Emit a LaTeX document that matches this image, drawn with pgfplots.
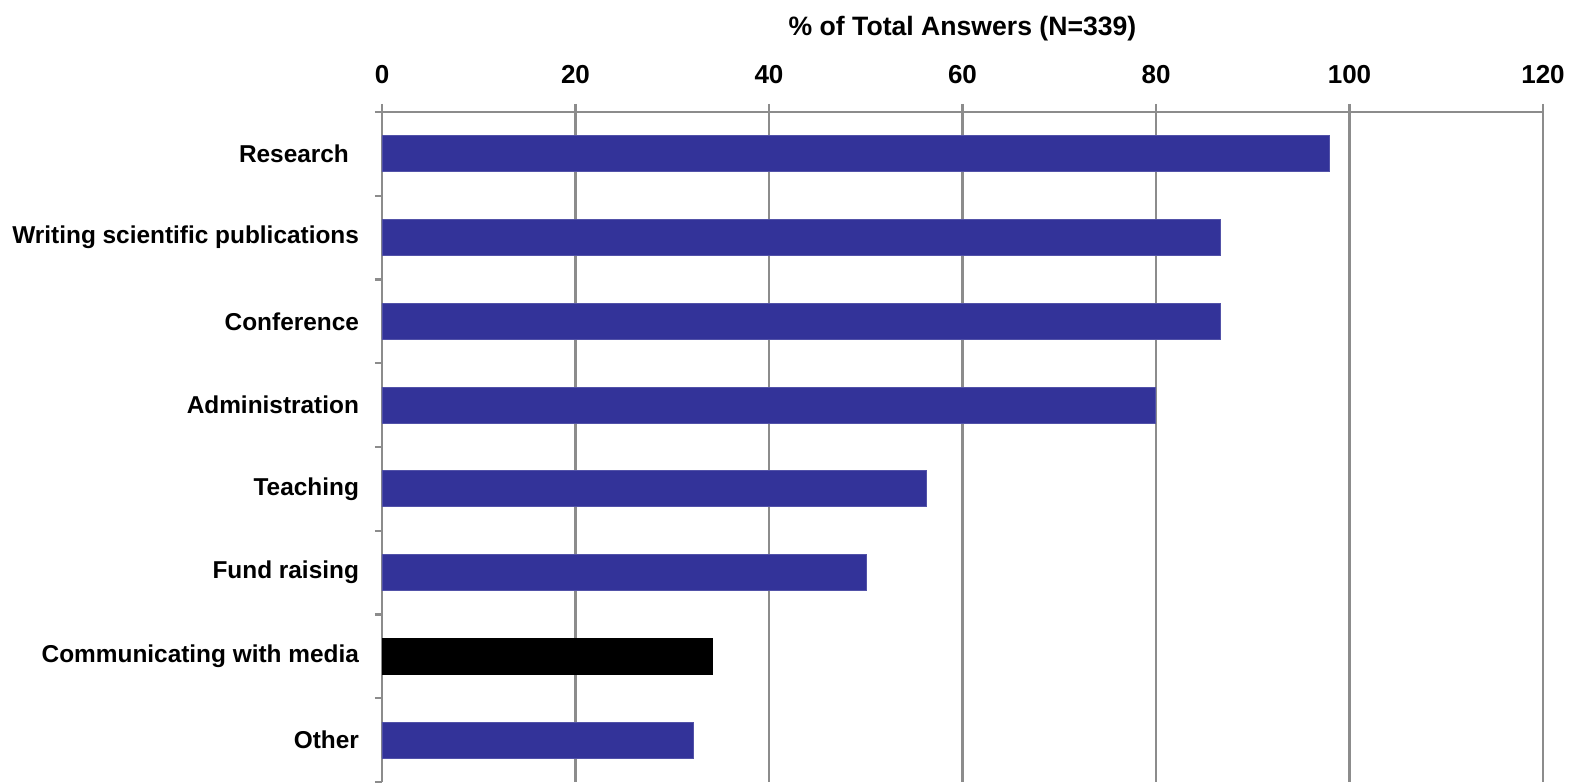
\documentclass[border=0pt]{standalone}
\usepackage{fontspec}
\setmainfont{Liberation Sans}
\usepackage{pgfplots}
\pgfplotsset{compat=1.18}
\usetikzlibrary{calc}
\definecolor{barblue}{HTML}{333399}
\definecolor{gridgray}{HTML}{8C8C8C}
\begin{document}
\begin{tikzpicture}
\begin{axis}[
  name=ax,
  scale only axis,
  width=580.5pt, height=335pt,
  xbar, bar width=18pt,
  xmin=0, xmax=120,
  ymin=-0.5, ymax=7.5,
  y dir=reverse,
  axis x line*=top,
  axis y line*=left,
  axis line style={gridgray, line width=1.2pt},
  xtick={0,20,...,120},
  xmajorgrids,
  major grid style={gridgray, line width=1.2pt},
  tick align=outside,
  major tick length=4pt,
  minor tick length=3.5pt,
  major x tick style={gridgray, line width=1.2pt},
  major y tick style={draw=none},
  minor y tick style={gridgray, line width=1.2pt},
  ytick={0,...,7},
  minor ytick={-0.5,0.5,...,7.5},
  yticklabels={Research\kern5pt,Writing scientific publications,Conference,Administration,Teaching,Fund raising,Communicating with media,Other},
  /pgf/number format/assume math mode=true,
  xticklabel style={font=\fontsize{13}{15}\selectfont\bfseries, yshift=6.5pt},
  yticklabel style={font=\fontsize{12.2}{14}\selectfont\bfseries, xshift=-4pt},
  title={\% of Total Answers (N=339)},
  title style={font=\fontsize{13.3}{15}\selectfont\bfseries, at={(0.5,1)}, anchor=center, yshift=35.5pt},
]
\addplot[fill=barblue, draw=barblue!85!white, bar shift=0pt] coordinates {(97.9,0) (86.7,1) (86.7,2) (79.9,3) (56.3,4) (50.1,5) (32.2,7)};
\addplot[fill=black, draw=black, bar shift=0pt] coordinates {(34.2,6)};
\end{axis}
\pgfresetboundingbox
\path[use as bounding box] ($(ax.south west)+(-191pt,-0.5pt)$) rectangle ($(ax.north east)+(15.5pt,56pt)$);
\end{tikzpicture}
\end{document}
